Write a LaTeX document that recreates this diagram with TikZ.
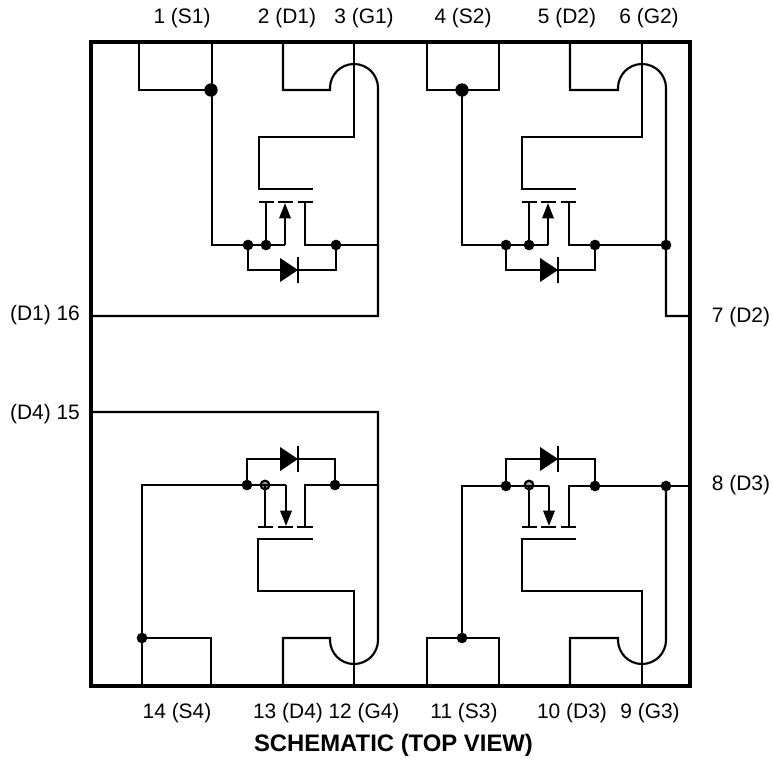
\documentclass[tikz,border=0pt]{standalone}
\usepackage{fontspec}
\setmainfont{Liberation Sans}
\usetikzlibrary{arrows.meta}

\begin{document}
\begin{tikzpicture}[
    x=0.75pt, y=-0.75pt,
    frameline/.style={line width=2.8pt, line cap=rect},
    wire/.style={line width=1.6pt, line join=miter},
    fetarrow/.style={wire, -{Triangle[length=11.5pt, width=8.5pt]}},
    bar/.style={line width=1.7pt},
    dot/.style={circle, fill=black, inner sep=0pt, minimum size=#1},
    dot/.default=8pt,
    ringdot/.style={circle, draw=black, line width=1.6pt, fill=gray!70, inner sep=0pt, minimum size=6.5pt},
    pinlabel/.style={font=\fontsize{15.7}{18}\selectfont, inner sep=0pt},
    titlelabel/.style={font=\bfseries\fontsize{17.9}{20}\selectfont, inner sep=0pt}
]
    \useasboundingbox (0,0) rectangle (773,759);

    % Package outline
    \coordinate (tl) at (91,42);
    \coordinate (br) at (690,686);
    \draw[frameline] (tl) rectangle (br);

    % Pin labels
    \node[pinlabel] (p1) at (182,18) {1 (S1)};
    \node[pinlabel] (p2) at (287,18) {2 (D1)};
    \node[pinlabel] (p3) at (364,18) {3 (G1)};
    \node[pinlabel] (p4) at (463,18) {4 (S2)};
    \node[pinlabel] (p5) at (567,18) {5 (D2)};
    \node[pinlabel] (p6) at (649,18) {6 (G2)};
    \node[pinlabel] (p7) at (741,317) {7 (D2)};
    \node[pinlabel] (p8) at (741,485) {8 (D3)};
    \node[pinlabel] (p9) at (650,713) {9 (G3)};
    \node[pinlabel] (p10) at (572,713) {10 (D3)};
    \node[pinlabel] (p11) at (464,713) {11 (S3)};
    \node[pinlabel] (p12) at (364,713) {12 (G4)};
    \node[pinlabel] (p13) at (288,713) {13 (D4)};
    \node[pinlabel] (p14) at (177,713) {14 (S4)};
    \node[pinlabel] (p15) at (45,414) {(D4) 15};
    \node[pinlabel] (p16) at (45,315) {(D1) 16};
    \node[titlelabel] (title) at (393.5,745) {SCHEMATIC (TOP VIEW)};

    % Junctions
    \node[dot=10pt] (j1) at (211,90) {};
    \node[dot] (j1a) at (248,245) {};
    \node[dot] (j1b) at (266,245) {};
    \node[dot] (j1c) at (336,245) {};
    \node[dot=10pt] (j2) at (462,90) {};
    \node[dot] (j2a) at (506,245) {};
    \node[dot] (j2b) at (529,245) {};
    \node[dot] (j2c) at (595,245) {};
    \node[dot] (j2d) at (666,245) {};
    \node[dot] (j3) at (462,638) {};
    \node[dot] (j3a) at (506,486) {};
    \node[ringdot] (j3b) at (529,485) {};
    \node[dot] (j3c) at (595,486) {};
    \node[dot] (j3d) at (666,486) {};
    \node[dot] (j4) at (142,638) {};
    \node[dot] (j4a) at (247,485) {};
    \node[ringdot] (j4b) at (265,485) {};
    \node[dot] (j4c) at (335,485) {};

    % FET 1
    \draw[wire] (139,42) |- (j1.center);
    \draw[wire] (212,42) -- (212,245) -- (285,245);
    \draw[wire] (283,42) |- (330,90) -- (330,88) arc[start angle=180, end angle=0, radius=18pt] -- (378,316) -- (91,316);
    \draw[wire] (354,42) |- (259,137) |- (313,189);
    \draw[bar] (259,202) -- (274,202);
    \draw[bar] (278,202) -- (293,202);
    \draw[bar] (298,202) -- (313,202);
    \draw[wire] (j1b.center) -- (266,202);
    \draw[fetarrow] (285,245) -- (285,203);
    \draw[wire] (305,202) |- (378,245);
    \draw[wire] (j1a.center) |- (j1c.center |- 0,270) -- (j1c.center);
    \fill (280,258) -- (298,270) -- (280,282) -- cycle;
    \draw[bar] (298,257) -- (298,283);

    % FET 2
    \draw[wire] (427,42) |- (499,90) -- (499,42);
    \draw[wire] (j2.center) -- (462,245) -- (548,245);
    \draw[wire] (570,42) |- (618,90) -- (618,88) arc[start angle=180, end angle=0, radius=18pt] -- (666,316) -- (690,316);
    \draw[wire] (642,42) |- (522,137) |- (576,189);
    \draw[bar] (522,202) -- (537,202);
    \draw[bar] (541,202) -- (556,202);
    \draw[bar] (561,202) -- (576,202);
    \draw[wire] (j2b.center) -- (529,202);
    \draw[fetarrow] (548,245) -- (548,203);
    \draw[wire] (569,202) |- (j2d.center);
    \draw[wire] (j2a.center) |- (j2c.center |- 0,270) -- (j2c.center);
    \fill (540,258) -- (558,270) -- (540,282) -- cycle;
    \draw[bar] (558,257) -- (558,283);

    % FET 3
    \draw[wire] (427,686) |- (499,638) -- (499,686);
    \draw[wire] (j3.center) -- (462,486) -- (549,486);
    \draw[wire] (570,686) |- (618,638) -- (618,640) arc[start angle=180, end angle=360, radius=18pt] -- (666,486);
    \draw[wire] (642,686) |- (522,591) |- (576,539);
    \draw[bar] (522,527) -- (537,527);
    \draw[bar] (541,527) -- (556,527);
    \draw[bar] (561,527) -- (576,527);
    \draw[wire] (j3b.center) -- (529,527);
    \draw[fetarrow] (549,486) -- (549,526);
    \draw[wire] (569,527) |- (690,486);
    \draw[wire] (j3a.center) |- (j3c.center |- 0,459) -- (j3c.center);
    \fill (540,447) -- (558,459) -- (540,471) -- cycle;
    \draw[bar] (558,446) -- (558,472);

    % FET 4
    \draw[wire] (91,412) -- (378,412) -- (378,640) arc[start angle=0, end angle=-180, radius=18pt] -- (330,638) -| (283,686);
    \draw[wire] (142,686) |- (286,485);
    \draw[wire] (j4.center) -| (211,686);
    \draw[wire] (354,686) |- (258,591) |- (313,539);
    \draw[bar] (258,527) -- (273,527);
    \draw[bar] (278,527) -- (293,527);
    \draw[bar] (297,527) -- (313,527);
    \draw[wire] (j4b.center) -- (265,527);
    \draw[fetarrow] (286,485) -- (286,526);
    \draw[wire] (305,527) |- (378,485);
    \draw[wire] (j4a.center) |- (j4c.center |- 0,459) -- (j4c.center);
    \fill (280,447) -- (298,459) -- (280,471) -- cycle;
    \draw[bar] (298,446) -- (298,472);
\end{tikzpicture}
\end{document}
